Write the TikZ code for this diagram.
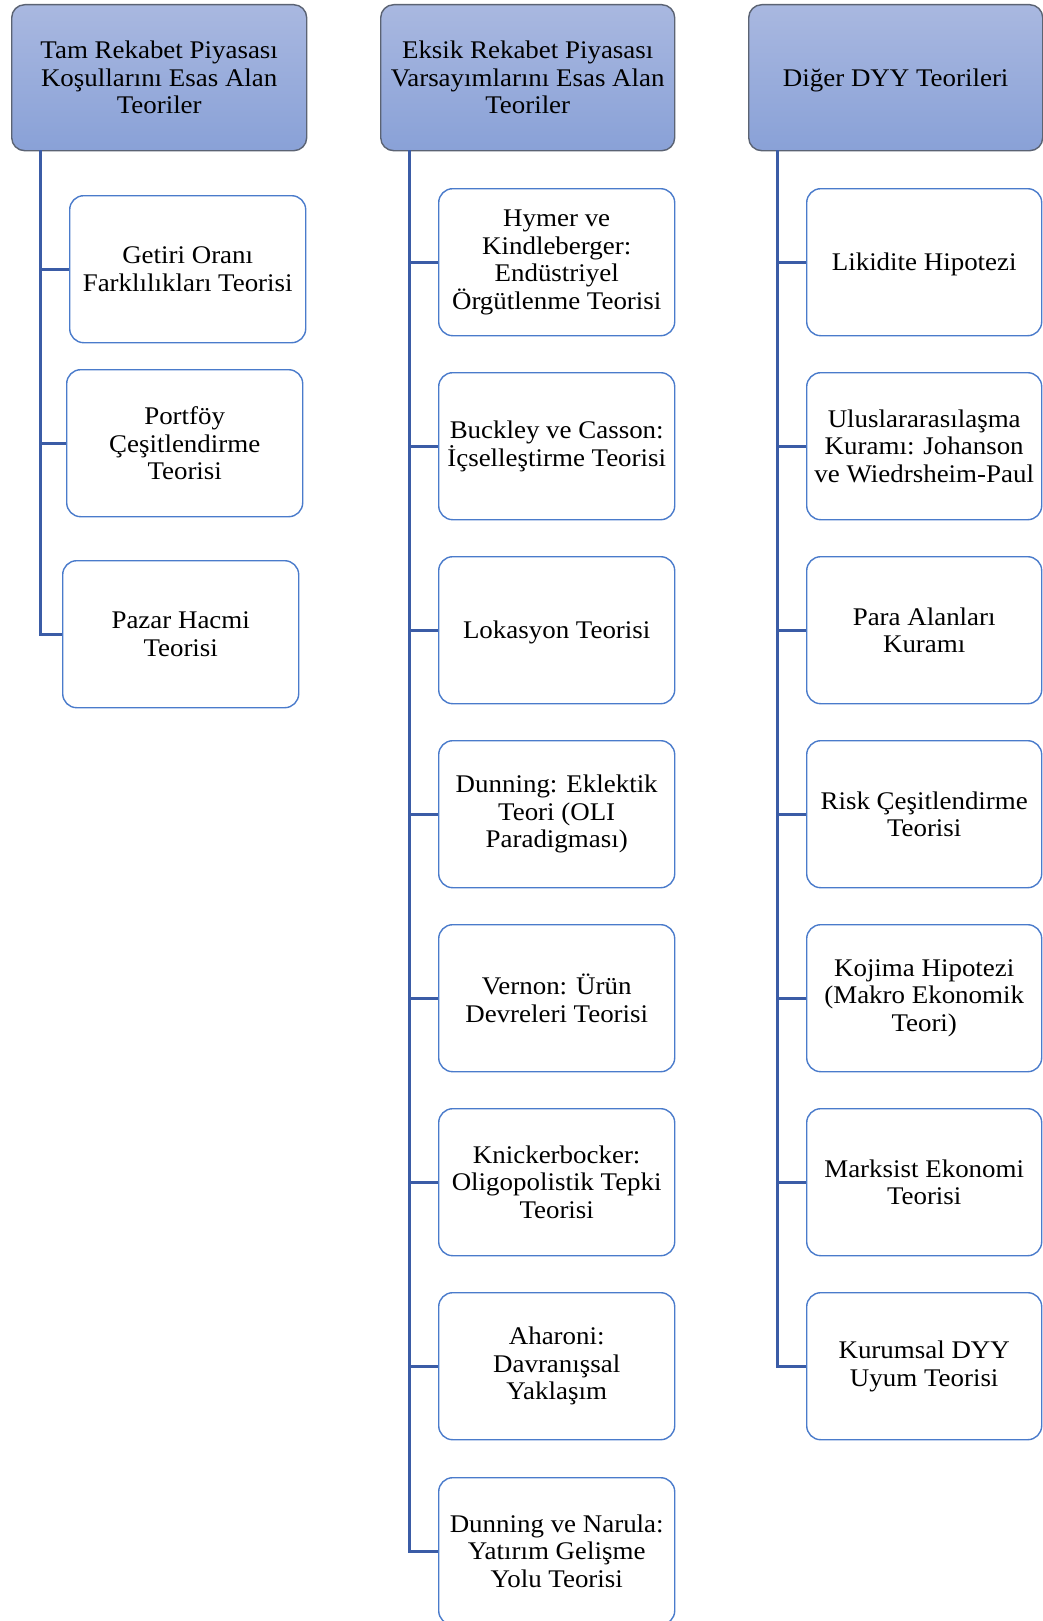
\documentclass[tikz,border=0pt]{standalone}
\usepackage{fontspec}
\setmainfont[FakeStretch=1.06]{Liberation Serif}
\definecolor{railblue}{HTML}{3B5CA6}
\definecolor{boxblue}{HTML}{4A7BCB}
\definecolor{headtop}{HTML}{A9B8E0}
\definecolor{headbot}{HTML}{89A1D7}
\definecolor{headedge}{HTML}{5B6373}
\begin{document}
\begin{tikzpicture}[x=1bp,y=-1bp,
  every node/.style={font=\fontsize{25.5}{27.6}\selectfont, align=center, inner sep=0pt},
  oneline/.style={text height=22.5bp, text depth=5.5bp},
  header/.style={draw=headedge, line width=1.4bp, rounded corners=13bp,
    top color=headtop, bottom color=headbot,
    minimum width=295bp, minimum height=146bp, anchor=north west},
  leaf/.style={draw=boxblue, line width=1.4bp, rounded corners=14bp, fill=white,
    minimum width=236bp, minimum height=147bp, anchor=north west},
  rail/.style={draw=railblue, line width=3bp}]
\useasboundingbox (0,0) rectangle (1042,1621);

% column headers
\node[header] (h1) at (11,4) {Tam Rekabet Piyasası\\Koşullarını Esas Alan\\Teoriler};
\node[header, minimum width=294bp] (h2) at (380,4) {Eksik Rekabet Piyasası\\Varsayımlarını Esas Alan\\Teoriler};
\node[header, oneline, minimum width=294bp] (h3) at (748,4) {Diğer DYY Teorileri};

% first column
\node[leaf] (a1) at (69,195) {Getiri Oranı\\Farklılıkları Teorisi};
\node[leaf] (a2) at (66,369) {Portföy\\Çeşitlendirme\\Teorisi};
\node[leaf] (a3) at (62,560) {Pazar Hacmi\\Teorisi};

% second column
\node[leaf] (b1) at (438,188) {Hymer ve\\Kindleberger:\\Endüstriyel\\Örgütlenme Teorisi};
\node[leaf] (b2) at (438,372) {Buckley ve Casson:\\İçselleştirme Teorisi};
\node[leaf, oneline] (b3) at (438,556) {Lokasyon Teorisi};
\node[leaf] (b4) at (438,740) {Dunning: Eklektik\\Teori (OLI\\Paradigması)};
\node[leaf] (b5) at (438,924) {Vernon: Ürün\\Devreleri Teorisi};
\node[leaf] (b6) at (438,1108) {Knickerbocker:\\Oligopolistik Tepki\\Teorisi};
\node[leaf] (b7) at (438,1292) {Aharoni:\\Davranışsal\\Yaklaşım};
\node[leaf] (b8) at (438,1477) {Dunning ve Narula:\\Yatırım Gelişme\\Yolu Teorisi};

% third column
\node[leaf, oneline, minimum width=235bp] (c1) at (806,188) {Likidite Hipotezi};
\node[leaf, minimum width=235bp] (c2) at (806,372) {Uluslararasılaşma\\Kuramı: Johanson\\ve Wiedrsheim-Paul};
\node[leaf, minimum width=235bp] (c3) at (806,556) {Para Alanları\\Kuramı};
\node[leaf, minimum width=235bp] (c4) at (806,740) {Risk Çeşitlendirme\\Teorisi};
\node[leaf, minimum width=235bp] (c5) at (806,924) {Kojima Hipotezi\\(Makro Ekonomik\\Teori)};
\node[leaf, minimum width=235bp] (c6) at (806,1108) {Marksist Ekonomi\\Teorisi};
\node[leaf, minimum width=235bp] (c7) at (806,1292) {Kurumsal DYY\\Uyum Teorisi};

% trunk x positions below each header
\coordinate (r1) at (40,150);
\coordinate (r2) at (409,150);
\coordinate (r3) at (777,150);

% first column connectors
\draw[rail] (r1) |- (a3.west);
\foreach \n in {a1,a2} \draw[rail] (\n.west -| r1) -- (\n.west);

% second column connectors
\draw[rail] (r2) |- (b8.west);
\foreach \n in {b1,b2,b3,b4,b5,b6,b7} \draw[rail] (\n.west -| r2) -- (\n.west);

% third column connectors
\draw[rail] (r3) |- (c7.west);
\foreach \n in {c1,c2,c3,c4,c5,c6} \draw[rail] (\n.west -| r3) -- (\n.west);
\end{tikzpicture}
\end{document}
